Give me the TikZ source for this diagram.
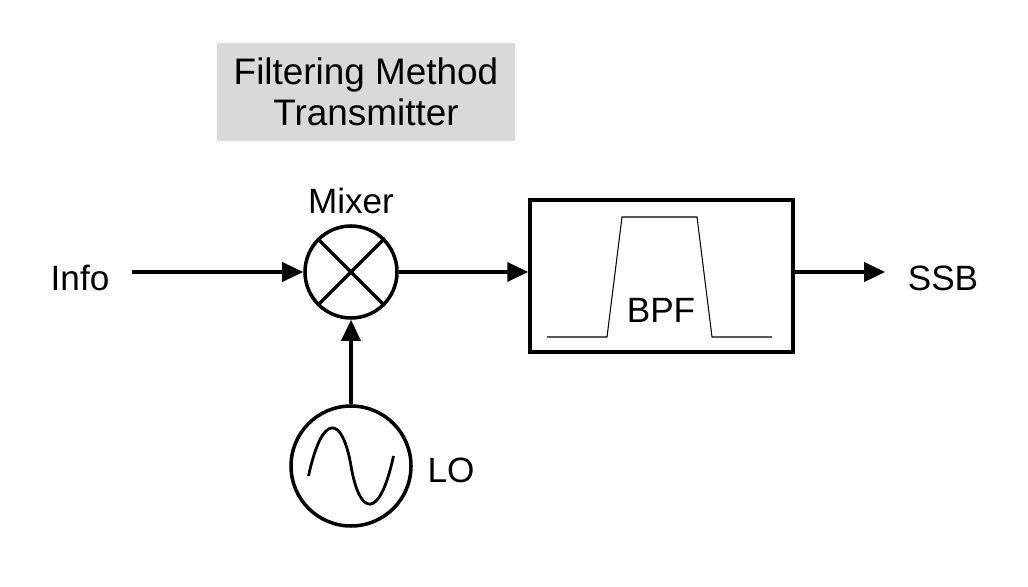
\documentclass[tikz,border=0pt]{standalone}
\usepackage{fontspec}
\setmainfont{Liberation Sans}
\usetikzlibrary{arrows.meta,positioning}

\tikzstyle{blk} = [rectangle, draw=black, line width=2pt, minimum width=5.26cm, minimum height=3.04cm]
\tikzstyle{lbl} = [font=\fontsize{20}{24}\selectfont]

\begin{document}
\begin{tikzpicture}[line width=2pt, >={Triangle[length=0.42cm,width=0.38cm]}]
\useasboundingbox (0,0) rectangle (20.56,11.72);

\node[fill=black!15, minimum width=5.96cm, minimum height=1.96cm, align=center, font=\fontsize{21}{25}\selectfont] (title) at (7.32,9.88) {Filtering Method\\[-2pt]Transmitter};

\node[circle, draw, minimum size=1.84cm, line width=2pt] (mixer) at (7.02,6.28) {};
\draw (mixer.45) -- (mixer.225);
\draw (mixer.135) -- (mixer.315);
\node[lbl] (mixlbl) [above=0.05cm of mixer] {Mixer};

\node[lbl] (info) at (1.6,6.16) {Info};
\node[blk] (bpf) at (13.23,6.2) {};
\node[lbl] (bpflbl) at (13.22,5.52) {BPF};
\node[lbl] (ssb) at (18.86,6.16) {SSB};

\node[circle, draw, minimum size=2.4cm, line width=2pt] (lo) at (7.02,2.4) {};
\node[lbl] (lolbl) at (9.02,2.32) {LO};

% passband shape
\draw[line width=0.6pt] (10.94,4.98) -- (12.14,4.98) -- (12.44,7.38) -- (13.94,7.38) -- (14.24,4.98) -- (15.44,4.98);
% sine wave
\draw[line width=1.6pt] (6.17,2.2) .. controls (6.45,3.5) and (6.85,3.4) .. (7.02,2.4)
  .. controls (7.19,1.4) and (7.59,1.3) .. (7.87,2.6);

\draw[->] ([xshift=0.3cm]info.east |- mixer.west) -- (mixer.west);
\draw[->] (mixer.east) -- (bpf.west |- mixer.east);
\draw[->] (bpf.east |- mixer.east) -- ([xshift=-0.3cm]ssb.west |- mixer.east);
\draw[->] (lo.north) -- (mixer.south);

\end{tikzpicture}
\end{document}
